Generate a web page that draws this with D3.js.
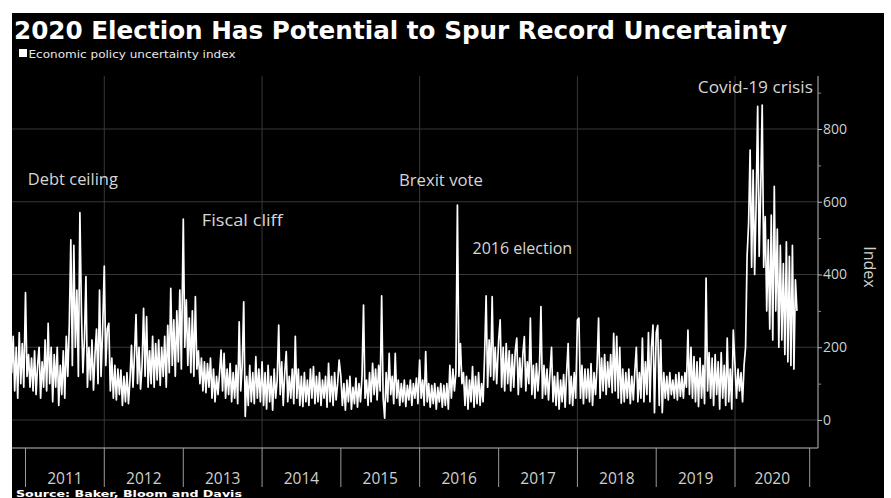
<!DOCTYPE html>
<html><head><meta charset="utf-8">
<script src="https://cdn.jsdelivr.net/npm/d3@7"></script>
<style>html,body{margin:0;padding:0;background:#fff;} svg{display:block;}</style>
</head><body>
<svg id="c" width="891" height="498"></svg>
<script>
// ---------------- DATA (weekly samples of the daily index) ----------------
const titleText = "2020 Election Has Potential to Spur Record Uncertainty";
const seriesName = "Economic policy uncertainty index";
const sourceText = "Source: Baker, Bloom and Davis";
const yearLabels = ["2011","2012","2013","2014","2015","2016","2017","2018","2019","2020"];
const yTicks = [0, 200, 400, 600, 800];
const yMinorTicks = [100, 300, 500, 700, 900];

const late2010 = [320,130,230,80,200,60,240,100,210,90]; // weeks 42..51 of 2010
const v2011 = [350,120,180,90,170,80,190,70,150,200,60,160,90,220,80,266,100,200,50,180,90,200,40,150,70,190,60,230,120,265,495,150,480,200,357,120,570,300,130,220,394,90,200,110,220,82,180,250,100,357,120,240];
const v2012 = [423,150,250,266,80,170,60,150,55,140,70,137,40,120,50,130,45,110,205,90,180,290,100,200,85,150,307,120,284,90,190,100,230,90,210,110,220,95,200,120,230,90,260,130,362,150,275,120,300,160,357,140];
const v2013 = [552,200,330,150,280,130,300,120,339,140,190,100,170,80,160,75,155,90,170,60,140,50,120,70,130,192,80,183,60,140,70,155,50,130,60,150,45,270,80,150,325,10,120,40,150,50,130,45,174,60,140,50];
const v2014 = [160,40,130,30,150,50,120,27,140,60,110,261,70,160,40,130,188,50,120,60,140,45,230,60,140,40,120,37,130,50,110,40,140,60,147,45,120,50,130,40,110,60,120,35,156,50,120,40,130,55,100,165];
const v2015 = [120,40,100,27,110,50,120,30,90,45,115,35,100,50,120,316,60,110,40,130,50,156,70,140,55,150,80,341,60,5,130,50,183,70,120,45,183,60,110,40,100,50,110,37,95,55,110,40,100,60,115,45];
const v2016 = [165,60,110,40,188,50,100,35,95,45,100,30,90,50,100,35,95,40,100,30,150,60,140,80,130,591,120,210,100,130,40,120,30,110,50,147,35,120,45,130,40,100,50,180,341,90,220,120,339,110,200,100];
const v2017 = [220,275,90,200,80,210,100,190,80,180,90,190,225,70,170,90,180,229,80,160,100,280,70,150,60,155,80,140,312,60,150,70,140,55,130,200,50,120,40,130,30,110,50,125,35,130,210,45,120,40,130,60];
const v2018 = [275,280,60,150,45,140,60,140,50,155,40,130,70,150,280,60,170,80,180,70,160,90,180,75,238,80,230,60,200,46,140,50,130,60,140,45,120,55,135,200,50,130,60,225,50,160,70,240,50,200,261,20];
const v2019 = [240,260,40,220,20,130,60,120,55,130,70,110,60,125,55,130,65,120,60,130,90,247,70,200,60,174,50,160,37,170,60,150,45,390,80,185,60,170,40,180,70,160,30,185,60,150,40,225,50,140,30,247];
const v2020 = [150,60,140,80,130,50,150,200,450,540,742,420,687,400,600,862,450,632,866,420,559,300,495,250,563,220,642,300,525,200,480,220,430,180,490,160,450,150,480,140,385,300];

const annotationTexts = ["Debt ceiling","Fiscal cliff","Brexit vote","2016 election","Covid-19 crisis"];
const annotationDates = [new Date(2011,0,12), new Date(2013,2,28), new Date(2015,8,27), new Date(2016,8,2), new Date(2019,6,13)];
const annotationValues = [646, 532, 642, 457, 900];
const annotationWidths = [90, 81, 84, 100, 115];

// ---------------- BUILD ----------------
const yearBlocks = [[2010, late2010, 42],[2011, v2011, 0],[2012, v2012, 0],[2013, v2013, 0],[2014, v2014, 0],
  [2015, v2015, 0],[2016, v2016, 0],[2017, v2017, 0],[2018, v2018, 0],[2019, v2019, 0],[2020, v2020, 0]];
const series = [];
yearBlocks.forEach(([yr, arr, off]) => arr.forEach((v, i) => series.push({date: new Date(yr, 0, 1 + (off + i) * 7), value: v})));

const W = 891, H = 498;
const pLeft = 12, pRight = 818, pTop = 76, pBottom = 448;
const xAxisEnd = new Date(2020, 11, 12);

const x = d3.scaleTime().domain([new Date(2011,0,1), new Date(2020,0,1)]).range([25.5, 735]);
const y = d3.scaleLinear().domain([0, 800]).range([420, 129]);

const svg = d3.select("#c");
svg.append("rect").attr("width", W).attr("height", H).attr("fill", "#fff");
svg.append("rect").attr("x", 12).attr("y", 13).attr("width", 872).attr("height", H - 13).attr("fill", "#000");

function fit(sel, w) {
  const L = sel.node().getComputedTextLength();
  if (Math.abs(L - w) / w > 0.01) sel.attr("textLength", w).attr("lengthAdjust", "spacingAndGlyphs");
}

// title
const t = svg.append("text").attr("x", 14).attr("y", 38.5)
  .attr("font-family", "DejaVu Sans").attr("font-weight", "bold").attr("font-size", 25)
  .attr("fill", "#fff").text(titleText);
fit(t, 773);

// legend
svg.append("rect").attr("x", 19).attr("y", 49).attr("width", 8).attr("height", 8).attr("fill", "#fff");
const lg = svg.append("text").attr("x", 28.5).attr("y", 57.5)
  .attr("font-family", "DejaVu Sans").attr("font-size", 10.5).attr("fill", "#e6e6e6").text(seriesName);
fit(lg, 207);

// gridlines
const g = svg.append("g");
g.selectAll("line.h").data(yTicks).join("line")
  .attr("x1", pLeft).attr("x2", pRight).attr("y1", d => y(d)).attr("y2", d => y(d))
  .attr("stroke", "#383838").attr("stroke-width", 1);
const gridYears = yearLabels.filter((d, i) => i % 2 === 1).map(d => new Date(+d, 0, 1));
g.selectAll("line.v").data(gridYears).join("line")
  .attr("x1", d => x(d)).attr("x2", d => x(d)).attr("y1", pTop).attr("y2", pBottom)
  .attr("stroke", "#383838").attr("stroke-width", 1);

// data
svg.append("clipPath").attr("id", "clip").append("rect")
  .attr("x", pLeft).attr("y", 13).attr("width", pRight - pLeft).attr("height", pBottom - 13);
const line = d3.line().x(d => x(d.date)).y(d => y(d.value));
svg.append("path").datum(series).attr("clip-path", "url(#clip)")
  .attr("d", line).attr("fill", "none").attr("stroke", "#fff")
  .attr("stroke-width", 1.7).attr("stroke-linejoin", "round");

// y axis (right)
svg.append("line").attr("x1", pRight).attr("x2", pRight).attr("y1", pTop).attr("y2", pBottom)
  .attr("stroke", "#bdbdbd").attr("stroke-width", 1);
const ya = svg.append("g").attr("transform", `translate(${pRight},0)`)
  .call(d3.axisRight(y).tickValues(yTicks).tickSize(4).tickPadding(1));
ya.select(".domain").remove();
ya.selectAll("line").attr("stroke", "#bdbdbd");
ya.selectAll("text").attr("fill", "#cfcfcf").attr("font-family", "Open Sans").attr("font-size", 14);
const ym = svg.append("g").attr("transform", `translate(${pRight},0)`)
  .call(d3.axisRight(y).tickValues(yMinorTicks).tickSize(3).tickFormat(""));
ym.select(".domain").remove();
ym.selectAll("line").attr("stroke", "#8a8a8a");

svg.append("text").attr("transform", `translate(864,267) rotate(90)`).attr("text-anchor", "middle")
  .attr("font-family", "Open Sans").attr("font-size", 16).attr("fill", "#cfcfcf").text("Index");

// x axis
svg.append("line").attr("x1", pLeft).attr("x2", pRight).attr("y1", pBottom).attr("y2", pBottom)
  .attr("stroke", "#bdbdbd").attr("stroke-width", 1);
const bounds = yearLabels.map(d => new Date(+d, 0, 1)).concat([xAxisEnd]);
svg.append("g").selectAll("line").data(bounds).join("line")
  .attr("x1", d => x(d)).attr("x2", d => x(d)).attr("y1", pBottom).attr("y2", 487)
  .attr("stroke", "#9a9a9a").attr("stroke-width", 1);
svg.append("g").selectAll("text").data(yearLabels).join("text")
  .attr("x", (d, i) => (x(bounds[i]) + x(bounds[i + 1])) / 2).attr("y", 484)
  .attr("text-anchor", "middle").attr("font-family", "Open Sans").attr("font-size", 15.5)
  .attr("fill", "#cfcfcf").text(d => d);

// annotations
annotationTexts.forEach((txt, i) => {
  const a = svg.append("text").attr("x", x(annotationDates[i])).attr("y", y(annotationValues[i]))
    .attr("font-family", "Open Sans").attr("font-size", 16).attr("fill", "#d6d6d6").text(txt);
  fit(a, annotationWidths[i]);
});

// source
const s = svg.append("text").attr("x", 16).attr("y", 496.5)
  .attr("font-family", "DejaVu Sans").attr("font-weight", "bold").attr("font-size", 9.5)
  .attr("fill", "#fff").text(sourceText);
fit(s, 226);
</script>
</body></html>
